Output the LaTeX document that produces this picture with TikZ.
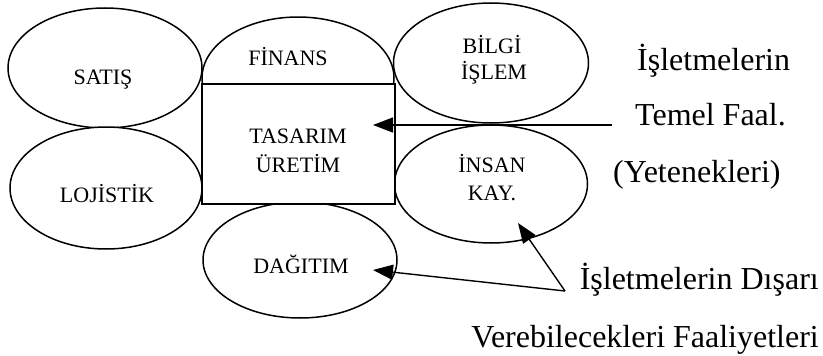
\documentclass[tikz,border=0pt]{standalone}
\usepackage{fontspec}
\setmainfont{Liberation Serif}
\usetikzlibrary{shapes.geometric,arrows.meta}
\tikzset{
  blob/.style={draw=black, line width=1.5pt, ellipse, inner sep=0pt, fill=white},
  core/.style={draw=black, line width=1.5pt, fill=white},
  inlbl/.style={anchor=base, inner sep=0pt, font=\fontsize{22}{24}\selectfont},
  sidetxt/.style={inner sep=0pt, font=\fontsize{32}{36}\selectfont},
  pointer/.style={line width=1.4pt, -{Triangle[length=20pt,width=15pt]}}
}
\begin{document}
\begin{tikzpicture}[x=1pt,y=-1pt]
\useasboundingbox (0,0) rectangle (823,356);

% surrounding functions
\node[blob, minimum width=194pt, minimum height=120pt] (sat) at (105,68) {};
\node[blob, minimum width=192pt, minimum height=122pt] (loj) at (106,188) {};
\node[blob, minimum width=195pt, minimum height=120pt] (bil) at (491,63) {};
\node[blob, minimum width=193pt, minimum height=118pt] (ins) at (491,184) {};
\node[blob, minimum width=192pt, minimum height=122pt] (fin) at (298,78) {};
\node[blob, minimum width=194pt, minimum height=116pt] (dag) at (300,260) {};

% core function box, laid over the ellipses above and below it
\node[core, minimum width=193pt, minimum height=120pt, inner sep=0pt] (tas) at (298.5,144) {};

% labels
\node[inlbl] (satL) at (103,84) {SATIŞ};
\node[inlbl] (finL) at (288,65) {FİNANS};
\node[inlbl] (bilL1) at (492,53) {BİLGİ};
\node[inlbl] (bilL2) at (494,79) {İŞLEM};
\node[inlbl] (tasL1) at (298,143) {TASARIM};
\node[inlbl] (tasL2) at (298,172) {ÜRETİM};
\node[inlbl] (lojL) at (107,202) {LOJİSTİK};
\node[inlbl] (insL1) at (492,172) {İNSAN};
\node[inlbl] (insL2) at (492,200) {KAY.};
\node[inlbl] (dagL) at (301,273) {DAĞITIM};

% explanatory texts
\node[sidetxt, anchor=base west] (t1) at (637,70) {İşletmelerin};
\node[sidetxt, anchor=base west] (t2) at (635,125) {Temel Faal.};
\node[sidetxt, anchor=base west] (t3) at (613,182) {(Yetenekleri)};
\node[sidetxt, anchor=base east] (t4) at (819,289) {İşletmelerin Dışarı};
\node[sidetxt, anchor=base east] (t5) at (819,347) {Verebilecekleri Faaliyetleri};

% pointers
\coordinate (coreSrc) at (612,125);
\coordinate (coreTip) at (373,125);
\coordinate (outSrc) at (565,291);
\coordinate (dagTip) at (373,270);
\coordinate (insTip) at (518,223);

\draw[pointer] (coreSrc) -- (coreTip);
\draw[pointer] (outSrc) -- (dagTip);
\draw[pointer] (outSrc) -- (insTip);
\end{tikzpicture}
\end{document}
